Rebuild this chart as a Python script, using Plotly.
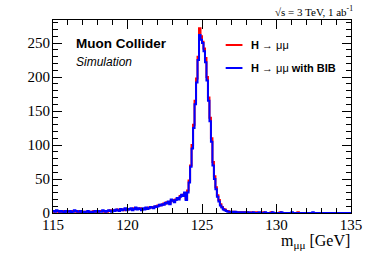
import numpy as np
import plotly.graph_objects as go

# Histogram binning (GeV)
BIN_LO = 115.0
BIN_WIDTH = 0.1
N_BINS = 200

# H -> mumu with BIB (blue), 0.1 GeV bins from 115 to 135
bib = [
    3, 2, 4, 3, 2, 3, 2, 1, 3, 2,
    2, 3, 1, 2, 4, 3, 2, 2, 3, 1,
    2, 1, 2, 3, 1, 2, 1, 2, 3, 2,
    3, 2, 2, 4, 3, 2, 3, 4, 3, 2,
    4, 3, 5, 4, 3, 6, 4, 5, 7, 4,
    6, 5, 7, 4, 6, 8, 5, 7, 6, 4,
    7, 5, 8, 6, 7, 9, 8, 7, 10, 9,
    10, 12, 11, 13, 12, 15, 14, 17, 13, 20,
    18, 16, 19, 22, 20, 24, 27, 25, 30, 19,
    30, 45, 68, 95, 125, 160, 192, 225, 262, 255,
    250, 238, 222, 195, 165, 135, 105, 70, 50, 35,
    24, 17, 11, 8, 5, 4, 3, 2, 2, 1,
    2, 1, 2, 1, 1, 0, 1, 1, 0, 1,
    0, 1, 0, 0, 1, 0, 0, 0, 1, 0,
    0, 0, 1, 0, 0, 0, 0, 1, 0, 0,
    0, 0, 0, 1, 0, 0, 0, 0, 0, 0,
    1, 0, 0, 0, 0, 0, 0, 0, 0, 0,
    0, 0, 0, 0, 1, 0, 0, 0, 0, 0,
    0, 0, 0, 0, 0, 0, 0, 0, 0, 0,
    0, 0, 0, 0, 0, 0, 0, 0, 0, 0,
]

# H -> mumu (red)
nobib = [
    2, 3, 3, 2, 3, 2, 3, 2, 2, 3,
    3, 2, 2, 3, 3, 2, 3, 1, 2, 2,
    1, 2, 2, 2, 2, 1, 2, 3, 2, 2,
    2, 3, 3, 3, 2, 3, 2, 3, 4, 3,
    3, 4, 4, 5, 4, 5, 5, 4, 6, 5,
    5, 6, 6, 5, 7, 7, 6, 6, 7, 5,
    6, 6, 7, 7, 8, 8, 9, 8, 9, 10,
    11, 11, 12, 12, 14, 14, 16, 16, 15, 18,
    19, 18, 20, 21, 22, 25, 26, 27, 29, 21,
    33, 48, 70, 100, 130, 165, 198, 230, 272, 260,
    252, 242, 228, 200, 170, 140, 110, 75, 54, 38,
    26, 19, 13, 9, 6, 5, 3, 3, 2, 2,
    1, 2, 1, 1, 1, 1, 0, 1, 1, 0,
    1, 0, 0, 1, 0, 0, 1, 0, 0, 0,
    0, 1, 0, 0, 0, 0, 1, 0, 0, 0,
    0, 0, 1, 0, 0, 0, 0, 0, 0, 0,
    0, 0, 0, 0, 1, 0, 0, 0, 0, 0,
    0, 0, 0, 0, 0, 0, 0, 0, 0, 0,
    0, 0, 0, 0, 0, 0, 0, 0, 0, 0,
    0, 0, 0, 0, 0, 0, 0, 0, 0, 0,
]

x_tick_vals = [115, 120, 125, 130, 135]
y_tick_vals = [0, 50, 100, 150, 200, 250]

edges = BIN_LO + BIN_WIDTH * np.arange(N_BINS + 1)

def step(vals):
    return list(vals) + [vals[-1]]

fig = go.Figure()
fig.add_trace(go.Scatter(x=edges, y=step(nobib), mode="lines", line_shape="hv",
                         line=dict(color="#ff0000", width=2), name="H → μμ",
                         showlegend=False))
fig.add_trace(go.Scatter(x=edges, y=step(bib), mode="lines", line_shape="hv",
                         line=dict(color="#0000ff", width=2), name="H → μμ with BIB",
                         showlegend=False))

serif = "Liberation Serif, Times New Roman, serif"
sans = "Liberation Sans, Arial, Helvetica, sans-serif"

axis_common = dict(
    showline=True, linecolor="black", linewidth=1, mirror="allticks",
    ticks="inside", ticklen=9, tickwidth=1, tickcolor="black",
    showgrid=False, zeroline=False,
    tickfont=dict(family=serif, size=15, color="black"),
)

fig.update_xaxes(range=[115, 135], tickvals=x_tick_vals, ticklabelstandoff=-2,
                 minor=dict(dtick=1, ticks="inside", ticklen=5, tickcolor="black"),
                 **axis_common)
fig.update_yaxes(range=[0, 284], tickvals=y_tick_vals, ticklabelstandoff=-1,
                 minor=dict(dtick=10, ticks="inside", ticklen=5, tickcolor="black"),
                 **axis_common)

def px_x(p):
    return (p - 53) / 302.0

def px_y(p):
    return (213 - p) / 193.0

shapes = [
    dict(type="line", xref="paper", yref="paper", x0=px_x(228), x1=px_x(245),
         y0=px_y(45), y1=px_y(45), line=dict(color="#ff0000", width=2)),
    dict(type="line", xref="paper", yref="paper", x0=px_x(228), x1=px_x(245),
         y0=px_y(68), y1=px_y(68), line=dict(color="#0000ff", width=2)),
]

annotations = [
    dict(text="<b>H</b> → μμ", xref="paper", yref="paper", x=px_x(252), y=px_y(45),
         xanchor="left", yanchor="middle", showarrow=False,
         font=dict(family=sans, size=11, color="black")),
    dict(text="<b>H</b> → μμ <b>with BIB</b>", xref="paper", yref="paper", x=px_x(252), y=px_y(68),
         xanchor="left", yanchor="middle", showarrow=False,
         font=dict(family=sans, size=11, color="black")),
    dict(text="<b>Muon Collider</b>", xref="paper", yref="paper", x=px_x(74), y=px_y(43),
         xanchor="left", yanchor="middle", showarrow=False,
         font=dict(family=sans, size=13.5, color="black")),
    dict(text="<i>Simulation</i>", xref="paper", yref="paper", x=px_x(74), y=px_y(62),
         xanchor="left", yanchor="middle", showarrow=False,
         font=dict(family=sans, size=12, color="black")),
    dict(text="√s = 3 TeV, 1 ab<sup>-1</sup>", xref="paper", yref="paper", x=px_x(359), y=px_y(11),
         xanchor="right", yanchor="middle", showarrow=False,
         font=dict(family=serif, size=11, color="black")),
    dict(text="m<sub>μμ</sub> [GeV]", xref="paper", yref="paper", x=px_x(356), y=px_y(241),
         xanchor="right", yanchor="middle", showarrow=False,
         font=dict(family=serif, size=16, color="black")),
]

fig.update_layout(
    width=374, height=255,
    margin=dict(l=53, r=19, t=20, b=42),
    paper_bgcolor="white", plot_bgcolor="white",
    shapes=shapes, annotations=annotations,
    showlegend=False,
)

fig.write_html("out.html", config={"displayModeBar": False},
               post_script="document.body.style.margin='0';")
